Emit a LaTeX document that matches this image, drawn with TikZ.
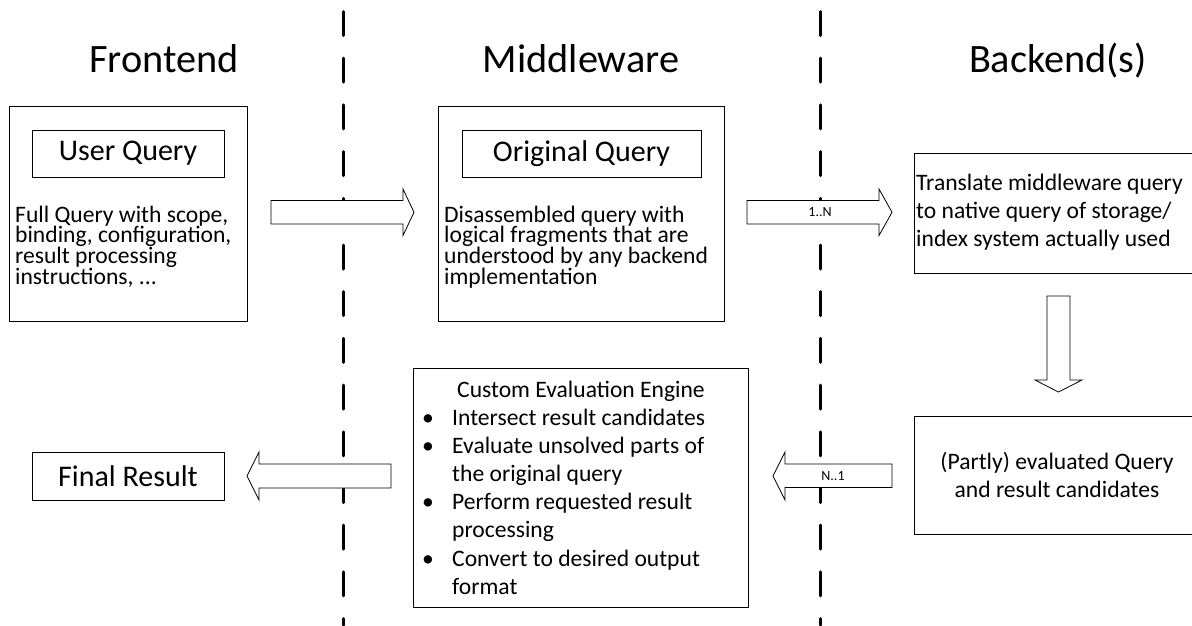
\documentclass[tikz,border=0pt]{standalone}
\usepackage{fontspec}
\setmainfont{Carlito}
\usepackage{tikz}
\setlength{\lineskiplimit}{-100pt}
\newcommand\bitem{\makebox[30pt][l]{\textbullet}}
\newcommand\bcont{\hspace*{30pt}}

\tikzset{
  box/.style={draw, line width=1pt, inner sep=0pt},
  lane/.style={line width=3pt, line cap=round, dash pattern=on 24pt off 22.7pt},
  blockarrow/.style={draw, fill=white, line width=0.8pt},
  heading/.style={font=\fontsize{40.3}{48}\selectfont},
  label/.style={font=\fontsize{30}{35}\selectfont},
  tight/.style={font=\fontsize{23.6}{20.4}\selectfont, inner sep=0pt, align=flush left},
  loose/.style={font=\fontsize{23.6}{28.2}\selectfont, inner sep=0pt, align=flush left},
  small/.style={font=\fontsize{14}{16}\selectfont, inner sep=0pt}
}

\begin{document}
\begin{tikzpicture}[x=1pt, y=-1pt]
        \useasboundingbox (0,0) rectangle (1192,625);
        % lane separators
        \draw [lane] (343,11.5) -- (343,625);
        \draw [lane] (820,11.5) -- (820,625);
        % headings
        \node [heading, anchor=base] (fehead) at (164,72) {Frontend};
        \node [heading, anchor=base] (mwhead) at (581,72) {Middleware};
        \node [heading, anchor=base] (behead) at (1058,72) {Backend(s)};
        % frontend
        \node [box, minimum width=238, minimum height=215] (fe) at (128,213.5) {};
        \node [box, label, minimum width=192, minimum height=47] (uq) at (128,153.5) {User Query};
        \node [tight, text width=300, anchor=base west] (fetext) at (15,222)
          {Full Query with scope,\\ binding, configuration,\\ result processing\\ instructions, ...};
        \node [box, label, minimum width=192, minimum height=48] (final) at (128,476) {Final Result};
        % middleware
        \node [box, minimum width=286, minimum height=215] (mw) at (581,213.5) {};
        \node [box, label, minimum width=239, minimum height=47] (oq) at (581.5,153.5) {Original Query};
        \node [tight, text width=300, anchor=base west] (mwtext) at (444,222)
          {Disassembled query with\\ logical fragments that are\\ understood by any backend\\ implementation};
        \node [box, minimum width=335, minimum height=239] (cee) at (580.5,487.5) {};
        \node [loose, anchor=base] (ceehead) at (581,397) {Custom Evaluation Engine};
        \node [loose, text width=320, anchor=base west] (ceelist) at (422,425)
          {\bitem Intersect result candidates\\ \bitem Evaluate unsolved parts of\\ \bcont the original query\\
           \bitem Perform requested result\\ \bcont processing\\ \bitem Convert to desired output\\ \bcont format};
        % backend
        \node [box, minimum width=286, minimum height=120] (tr) at (1057,213) {};
        \node [loose, text width=300, anchor=base west] (trtext) at (916,190)
          {Translate middleware query\\ to native query of storage/\\ index system actually used};
        \node [box, loose, align=center, minimum width=286, minimum height=118] (ev) at (1057,475)
          {(Partly) evaluated Query\\ and result candidates};
        % block arrows
        \draw [blockarrow] (271,200.5) -- (403,200.5) -- (403,189) -- (414,212.3)
          -- (403,235.5) -- (403,224) -- (271,224) -- cycle;
        \draw [blockarrow] (747,200.5) -- (879,200.5) -- (879,189) -- (892,212.3)
          -- (879,235.5) -- (879,224) -- (747,224) -- cycle;
        \node [small] (split) at (820,212.3) {1..N};
        \draw [blockarrow] (1047,296) -- (1070,296) -- (1070,380) -- (1082,380)
          -- (1058.5,392) -- (1035,380) -- (1047,380) -- cycle;
        \draw [blockarrow] (892,464) -- (892,487.5) -- (785,487.5) -- (785,500)
          -- (773,476) -- (785,452) -- (785,464) -- cycle;
        \node [small] (merge) at (833,476) {N..1};
        \draw [blockarrow] (391,464) -- (391,488) -- (259,488) -- (259,500)
          -- (247,476) -- (259,452) -- (259,464) -- cycle;
      \end{tikzpicture}
\end{document}
